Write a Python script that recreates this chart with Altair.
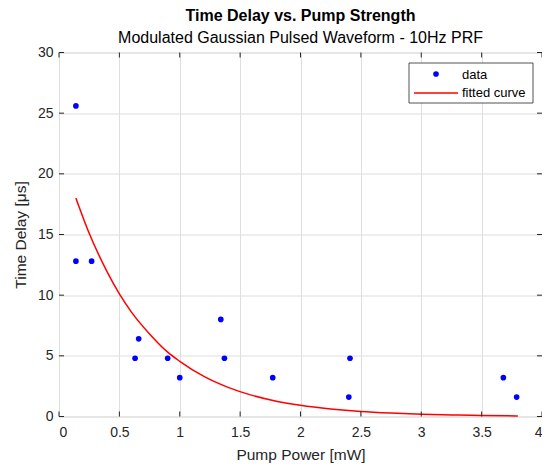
import altair as alt
import pandas as pd

# measured data points
pump_power = [0.14, 0.14, 0.27, 0.63, 0.66, 0.90, 1.00, 1.34, 1.37, 1.77, 2.40, 2.41, 3.68, 3.79]
time_delay = [25.6, 12.8, 12.8, 4.8, 6.4, 4.8, 3.2, 8.0, 4.8, 3.2, 1.6, 4.8, 3.2, 1.6]

# fitted curve
fit_x = [0.14, 0.25, 0.40, 0.50, 0.60, 0.75, 0.90, 1.00, 1.20, 1.40, 1.60, 1.80, 2.00,
         2.25, 2.50, 2.75, 3.00, 3.25, 3.50, 3.80]
fit_y = [18.0, 15.1, 11.9, 10.1, 8.6, 6.8, 5.3, 4.55, 3.3, 2.4, 1.74, 1.26, 0.92,
         0.62, 0.41, 0.28, 0.19, 0.13, 0.083, 0.05]

x_ticks = [0, 0.5, 1, 1.5, 2, 2.5, 3, 3.5, 4]
y_ticks = [0, 5, 10, 15, 20, 25, 30]
legend_labels = ["data", "fitted curve"]

W, H = 483, 364
FONT = "Liberation Sans"
TXT = "#262626"

pts = pd.DataFrame({"x": pump_power, "y": time_delay})
fit = pd.DataFrame({"x": fit_x, "y": fit_y})
xt = pd.DataFrame({"v": x_ticks})
yt = pd.DataFrame({"v": y_ticks})

xs = alt.Scale(domain=[0, 4], nice=False, zero=False)
ys = alt.Scale(domain=[0, 30], nice=False, zero=False)

xaxis = alt.Axis(values=x_ticks, format="~g", title="Pump Power [mW]", grid=True,
                 gridColor="#dedede", ticks=False, domain=False, labelPadding=9,
                 labelFontSize=14, labelColor=TXT, titleFontSize=15.5, titleColor=TXT,
                 titleFontWeight="normal", titleFont=FONT, labelFont=FONT, titlePadding=8)
yaxis = alt.Axis(values=y_ticks, format="~g", title="Time Delay [μs]", grid=True,
                 gridColor="#dedede", ticks=False, domain=False, labelPadding=6,
                 labelFontSize=14, labelColor=TXT, titleFontSize=15.5, titleColor=TXT,
                 titleFontWeight="normal", titleFont=FONT, labelFont=FONT, titlePadding=9)

points = alt.Chart(pts).mark_circle(color="#0000ff", size=32, opacity=1).encode(
    x=alt.X("x:Q", scale=xs, axis=xaxis),
    y=alt.Y("y:Q", scale=ys, axis=yaxis),
)
line = alt.Chart(fit).mark_line(color="#ff0000", strokeWidth=1.5, interpolate="monotone").encode(
    x=alt.X("x:Q", scale=xs), y=alt.Y("y:Q", scale=ys)
)

tl = 5
xt_bottom = alt.Chart(xt).mark_rule(color=TXT).encode(
    x=alt.X("v:Q", scale=xs), y=alt.value(H), y2=alt.value(H - tl))
xt_top = alt.Chart(xt).mark_rule(color=TXT).encode(
    x=alt.X("v:Q", scale=xs), y=alt.value(0), y2=alt.value(tl))
yt_left = alt.Chart(yt).mark_rule(color=TXT).encode(
    y=alt.Y("v:Q", scale=ys), x=alt.value(0), x2=alt.value(tl))
yt_right = alt.Chart(yt).mark_rule(color=TXT).encode(
    y=alt.Y("v:Q", scale=ys), x=alt.value(W), x2=alt.value(W - tl))

# legend (decoration)
one = pd.DataFrame({"a": [0]})
lg_box = alt.Chart(one).mark_rect(fill="white", stroke="#262626", strokeWidth=0.8).encode(
    x=alt.value(350), x2=alt.value(474), y=alt.value(10.5), y2=alt.value(50.5))
lg_dot = alt.Chart(one).mark_circle(color="#0000ff", size=32, opacity=1).encode(
    x=alt.value(377), y=alt.value(21.5))
lg_line = alt.Chart(one).mark_rule(color="#ff0000", strokeWidth=1.5).encode(
    x=alt.value(355), x2=alt.value(399), y=alt.value(40.5))
lg_t1 = alt.Chart(one).mark_text(align="left", baseline="middle", font=FONT, fontSize=13,
                                 color="#000000", text=legend_labels[0]).encode(
    x=alt.value(403), y=alt.value(22))
lg_t2 = alt.Chart(one).mark_text(align="left", baseline="middle", font=FONT, fontSize=13,
                                 color="#000000", text=legend_labels[1]).encode(
    x=alt.value(403), y=alt.value(40.5))

chart = alt.layer(
    line, points,
    xt_bottom, xt_top, yt_left, yt_right,
    lg_box, lg_dot, lg_line, lg_t1, lg_t2,
).properties(
    width=W, height=H,
    title=alt.TitleParams(
        "Time Delay vs. Pump Strength",
        subtitle="Modulated Gaussian Pulsed Waveform - 10Hz PRF",
        font=FONT, fontSize=16, fontWeight="bold", color="#000000",
        subtitleFont=FONT, subtitleFontSize=16, subtitleColor="#000000",
        subtitlePadding=6, anchor="middle", frame="group", offset=0,
    ),
    autosize=alt.AutoSizeParams(type="none"),
    padding={"left": 51, "top": 44.5, "right": 0, "bottom": 50},
).configure_view(stroke=TXT, strokeWidth=1).configure(background="white")

chart.save("out.html", embed_options={"renderer": "svg", "actions": False})
